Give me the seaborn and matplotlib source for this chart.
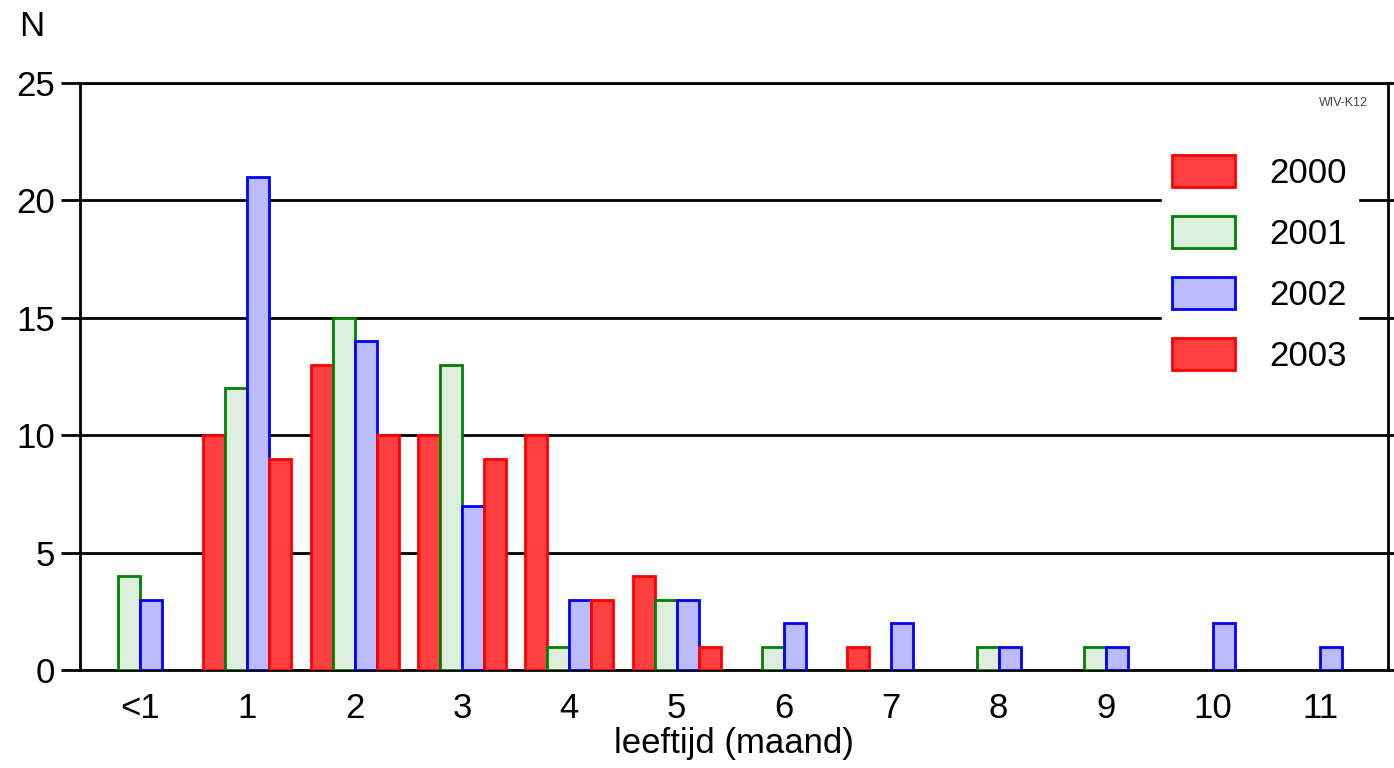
import matplotlib
matplotlib.use("Agg")
import matplotlib.pyplot as plt
from matplotlib.patches import Patch
import pandas as pd
import seaborn as sns

leeftijd = ['<1', '1', '2', '3', '4', '5', '6', '7', '8', '9', '10', '11']
jaren = ['2000', '2001', '2002', '2003']
n_2000 = [0, 10, 13, 10, 10, 4, 0, 1, 0, 0, 0, 0]
n_2001 = [4, 12, 15, 13, 1, 3, 1, 0, 1, 1, 0, 0]
n_2002 = [3, 21, 14, 7, 3, 3, 2, 2, 1, 1, 2, 1]
n_2003 = [0, 9, 10, 9, 3, 1, 0, 0, 0, 0, 0, 0]

fills = ['#ff4040', '#ddeedd', '#bbbbff', '#ff4040']
edges = ['#ff0000', '#008000', '#0000ff', '#ff0000']

rows = []
for jaar, vals in zip(jaren, [n_2000, n_2001, n_2002, n_2003]):
    for cat, v in zip(leeftijd, vals):
        rows.append({'leeftijd': cat, 'N': v, 'jaar': jaar})
df = pd.DataFrame(rows)

sns.set_style('white')
plt.rcParams['font.family'] = ['Liberation Sans', 'DejaVu Sans']
plt.rcParams['text.color'] = 'black'
plt.rcParams['xtick.color'] = 'black'
plt.rcParams['ytick.color'] = 'black'
plt.rcParams['axes.labelcolor'] = 'black'

fig = plt.figure(figsize=(13.94, 7.68), dpi=100)
ax = fig.add_axes([0.0574, 0.1276, 0.9383, 0.7644])

sns.barplot(data=df, x='leeftijd', y='N', hue='jaar', order=leeftijd,
            hue_order=jaren, palette=fills, saturation=1, width=0.82, ax=ax,
            legend=False, zorder=3)

for cont, ec in zip(ax.containers, edges):
    for bar in cont:
        bar.set_edgecolor(ec)
        bar.set_linewidth(2)
        if bar.get_height() == 0:
            bar.set_visible(False)

ax.set_ylim(0, 25)
ax.set_xlim(-0.56, 11.63)
ax.set_yticks([0, 5, 10, 15, 20, 25])
for y in [5, 10, 15, 20, 25]:
    ax.axhline(y, color='black', lw=2, zorder=1)

for s in ax.spines.values():
    s.set_color('black')
    s.set_linewidth(2)

ax.tick_params(axis='y', left=True, right=True, direction='out',
               length=14, width=2, labelsize=25, pad=4)
ax.tick_params(axis='x', bottom=False, labelsize=25, pad=12)
ax.set_xlabel('leeftijd (maand)', fontsize=25, labelpad=2)
ax.set_ylabel('')

fig.text(0.023, 0.965, 'N', fontsize=25, ha='center', va='center')
ax.text(0.985, 0.965, 'WIV-K12', transform=ax.transAxes, fontsize=9,
        color='#444444', ha='right', va='center')

handles = [Patch(facecolor=f, edgecolor=e, linewidth=2) for f, e in zip(fills, edges)]
leg = ax.legend(handles, jaren, loc='upper right', bbox_to_anchor=(0.99, 0.925),
                fontsize=25, frameon=True, framealpha=1, edgecolor='white',
                fancybox=False, handlelength=1.8, handleheight=1.05,
                handletextpad=1.0, labelspacing=0.75, borderpad=0.3)
leg.set_zorder(5)

fig.savefig('out.png', dpi=100)
